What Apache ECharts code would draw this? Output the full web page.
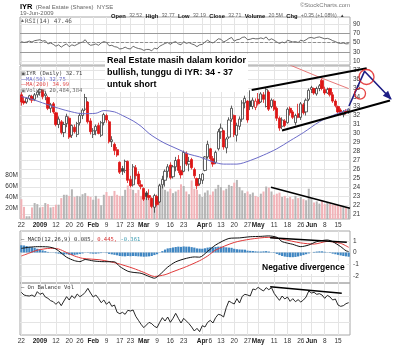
<!DOCTYPE html>
<html>
<head>
<meta charset="utf-8">
<script src="https://cdn.jsdelivr.net/npm/echarts@6.0.0/dist/echarts.min.js"></script>
<style>
  html, body { margin: 0; padding: 0; background: #fff; }
  #c { width: 400px; height: 345px; }
</style>
</head>
<body>
<div id="c"></div>
<script>
// ---- IYR daily, 22 Dec 2008 – 19 Jun 2009 ----
const dates = [
  '2008-12-22','2008-12-23','2008-12-24','2008-12-26','2008-12-29','2008-12-30','2008-12-31',
  '2009-01-02','2009-01-05','2009-01-06','2009-01-07','2009-01-08','2009-01-09','2009-01-12','2009-01-13','2009-01-14','2009-01-15','2009-01-16','2009-01-20','2009-01-21','2009-01-22','2009-01-23','2009-01-26','2009-01-27','2009-01-28','2009-01-29','2009-01-30',
  '2009-02-02','2009-02-03','2009-02-04','2009-02-05','2009-02-06','2009-02-09','2009-02-10','2009-02-11','2009-02-12','2009-02-13','2009-02-17','2009-02-18','2009-02-19','2009-02-20','2009-02-23','2009-02-24','2009-02-25','2009-02-26','2009-02-27',
  '2009-03-02','2009-03-03','2009-03-04','2009-03-05','2009-03-06','2009-03-09','2009-03-10','2009-03-11','2009-03-12','2009-03-13','2009-03-16','2009-03-17','2009-03-18','2009-03-19','2009-03-20','2009-03-23','2009-03-24','2009-03-25','2009-03-26','2009-03-27','2009-03-30','2009-03-31',
  '2009-04-01','2009-04-02','2009-04-03','2009-04-06','2009-04-07','2009-04-08','2009-04-09','2009-04-13','2009-04-14','2009-04-15','2009-04-16','2009-04-17','2009-04-20','2009-04-21','2009-04-22','2009-04-23','2009-04-24','2009-04-27','2009-04-28','2009-04-29','2009-04-30',
  '2009-05-01','2009-05-04','2009-05-05','2009-05-06','2009-05-07','2009-05-08','2009-05-11','2009-05-12','2009-05-13','2009-05-14','2009-05-15','2009-05-18','2009-05-19','2009-05-20','2009-05-21','2009-05-22','2009-05-26','2009-05-27','2009-05-28','2009-05-29',
  '2009-06-01','2009-06-02','2009-06-03','2009-06-04','2009-06-05','2009-06-08','2009-06-09','2009-06-10','2009-06-11','2009-06-12','2009-06-15','2009-06-16','2009-06-17','2009-06-18','2009-06-19'
];

const open = [
  34.3,33.6,33.5,33.9,34.1,33.8,34.3,34.6,34.8,34.2,
  34.0,32.8,33.3,32.3,31.0,31.3,30.1,31.1,31.7,29.8,
  30.7,29.9,31.2,32.0,32.7,33.5,31.4,29.9,30.3,30.9,
  29.8,31.2,32.0,31.3,29.1,28.8,28.2,26.8,26.1,25.9,
  26.9,24.9,24.3,26.2,25.5,24.3,23.9,23.4,23.1,22.8,
  21.8,23.0,22.4,24.3,24.8,25.8,26.5,25.2,26.3,27.1,
  25.9,25.8,27.8,26.6,27.1,26.0,25.0,24.4,24.8,25.9,
  27.4,28.3,27.2,26.8,28.3,30.2,30.3,28.4,29.6,31.6,
  32.0,29.8,30.8,31.6,33.4,33.6,33.6,33.0,32.9,33.8,
  33.5,34.3,33.0,34.6,33.0,33.6,32.8,31.7,30.8,31.4,
  31.2,32.8,32.4,31.2,32.2,31.8,33.2,32.4,33.8,34.9,
  35.0,34.4,35.0,35.9,34.9,34.5,35.0,34.3,33.6,33.0,
  32.6,32.1,32.5,32.52
];
const high = [
  34.6,34.1,34.0,34.3,34.3,34.5,34.8,35.0,34.9,34.7,
  34.2,33.4,33.5,32.4,31.9,31.5,31.3,32.2,31.9,31.0,
  31.0,31.3,32.3,32.8,34.4,33.6,31.7,30.6,31.0,31.2,
  31.4,32.3,32.2,31.5,29.7,29.0,28.5,26.9,26.4,27.1,
  27.0,25.3,26.6,26.5,25.8,24.8,24.0,23.6,23.8,22.9,
  23.3,23.2,24.4,25.3,26.0,26.6,26.8,26.5,27.4,27.6,
  26.4,28.1,28.0,27.4,27.3,26.2,25.1,25.5,25.6,27.5,
  29.2,28.4,27.5,28.1,30.5,31.1,30.4,29.6,31.8,33.1,
  32.1,31.2,31.9,33.7,34.2,33.7,34.8,34.0,33.9,34.5,
  34.6,34.6,35.1,34.8,33.9,33.8,33.0,31.9,31.8,31.6,
  32.9,33.0,32.6,32.2,33.3,33.5,33.4,33.9,35.0,35.3,
  35.1,35.2,35.5,36.1,35.2,35.1,35.1,34.6,33.8,33.1,
  32.8,32.6,32.7,32.77
];
const low = [
  33.1,33.2,33.3,33.7,33.4,33.6,34.0,34.2,33.8,33.7,
  32.6,32.3,32.2,30.8,30.6,29.9,29.6,30.7,29.4,29.5,
  30.0,29.6,30.9,31.6,32.5,31.1,29.9,29.5,29.8,29.9,
  29.6,30.9,31.2,28.9,28.5,27.6,27.4,25.5,25.4,25.6,
  24.5,24.0,24.1,24.9,24.2,23.8,22.5,22.6,22.6,21.7,
  21.2,21.9,22.3,23.9,24.1,25.1,24.9,25.0,25.8,25.6,
  25.0,25.7,26.4,25.8,26.0,25.0,23.8,24.2,24.4,25.8,
  27.2,26.9,26.3,26.6,28.1,29.4,28.2,27.8,29.4,31.3,
  29.6,29.1,30.4,31.3,32.8,31.2,32.6,32.7,32.6,33.1,
  33.4,33.4,32.9,32.5,32.8,32.5,31.4,30.3,30.5,30.7,
  31.1,32.0,31.6,30.9,31.7,31.5,32.1,32.0,33.6,34.5,
  34.3,34.2,34.7,34.8,34.3,34.4,34.1,33.4,32.9,32.2,
  32.0,31.8,32.1,32.19
];
const close = [
  33.5,33.4,33.9,34.2,33.7,34.3,34.6,34.9,34.1,34.4,
  32.8,33.2,32.4,31.0,31.6,30.1,31.0,31.9,29.6,30.9,
  30.2,31.1,32.0,32.6,34.0,31.3,30.2,30.3,30.8,30.0,
  31.2,32.1,31.5,29.1,29.3,28.1,27.6,25.7,25.8,26.9,
  24.8,24.2,26.3,25.3,24.4,24.1,22.7,23.0,22.9,21.9,
  23.1,22.1,24.2,24.9,25.8,26.3,25.1,26.3,27.0,25.9,
  25.4,27.9,26.6,26.9,26.2,25.3,24.2,25.0,25.5,27.4,
  28.8,27.2,26.6,27.9,30.2,30.6,28.5,29.4,31.5,32.8,
  29.9,30.9,31.6,33.4,33.9,31.5,33.0,33.7,33.6,33.3,
  34.4,33.8,34.9,32.7,33.7,32.7,31.7,30.6,31.5,30.9,
  32.7,32.3,31.8,32.0,31.8,33.3,32.3,33.7,34.8,35.1,
  34.5,35.0,35.3,35.0,34.5,34.9,34.3,33.6,33.1,32.4,
  32.1,32.4,32.36,32.71
];
// volume, millions of shares
const volume = [
  36,22,5,5,21,29,27,21,22,29,
  27,21,22,26,26,38,44,44,42,54,
  40,42,41,45,47,42,40,35,42,37,
  25,44,49,42,42,51,44,42,42,53,
  61,55,53,47,53,42,38,48,42,38,
  34,42,64,61,53,50,55,47,50,53,
  63,60,50,45,70,55,53,45,40,48,
  52,44,50,55,62,58,52,55,62,60,
  66,71,58,52,47,50,45,48,42,40,
  46,50,59,57,50,44,46,48,40,42,
  38,40,36,42,38,40,36,34,55,38,
  30,32,28,33,27,30,28,26,26,25,
  23,22,21,20.48
];
const rsi = [
  52,50,51,53,51,54,55,56,53,54,
  47,49,46,42,45,40,44,47,41,45,
  43,46,49,51,56,48,44,45,47,44,
  49,52,50,43,44,41,40,36,37,40,
  37,36,42,39,37,36,33,35,35,32,
  38,36,42,45,48,50,46,50,52,47,
  45,52,48,50,47,45,41,45,46,51,
  55,51,49,53,58,57,51,54,58,61,
  53,56,57,61,62,56,57,59,58,58,
  60,58,62,55,58,55,51,48,51,49,
  55,53,51,52,50,55,53,56,60,61,
  59,61,62,60,58,59,57,54,52,49,
  48,49,47,47.46
];
const macdHist = [
  0.62,0.6,0.55,0.5,0.45,0.4,0.32,0.25,0.18,0.12,
  0.05,0.02,-0.02,-0.06,-0.1,-0.14,-0.18,-0.15,-0.2,-0.22,
  -0.2,-0.17,-0.12,-0.08,0.02,-0.03,-0.08,-0.1,-0.1,-0.08,
  -0.05,-0.02,-0.05,-0.12,-0.16,-0.2,-0.24,-0.3,-0.32,-0.33,
  -0.3,-0.32,-0.3,-0.31,-0.33,-0.34,-0.36,-0.35,-0.33,-0.3,
  -0.22,-0.15,-0.02,0.12,0.25,0.35,0.38,0.43,0.47,0.5,
  0.48,0.52,0.5,0.5,0.46,0.42,0.35,0.33,0.32,0.36,
  0.42,0.45,0.44,0.47,0.5,0.5,0.46,0.44,0.42,0.4,
  0.32,0.28,0.26,0.25,0.24,0.16,0.14,0.13,0.1,0.08,
  0.08,0.1,0.12,0.08,0.02,-0.04,-0.12,-0.22,-0.3,-0.35,
  -0.38,-0.4,-0.4,-0.38,-0.34,-0.28,-0.22,-0.15,-0.08,0.0,
  0.05,0.08,0.1,0.1,0.06,0.02,-0.04,-0.1,-0.15,-0.2,
  -0.25,-0.3,-0.33,-0.361
];
// on balance volume, millions (relative)
const obv = [
  384,360,354,351,360,345,390,366,378,342,
  330,309,300,276,300,264,306,345,315,354,
  330,369,345,360,384,420,378,342,360,330,
  291,315,276,300,258,270,204,192,204,186,
  222,216,225,168,132,96,66,90,114,102,
  78,66,114,156,126,162,114,150,195,150,
  108,150,126,102,72,36,60,30,84,72,
  114,132,108,156,186,180,162,246,306,291,
  279,327,288,348,366,360,351,414,408,429,
  411,396,426,408,426,375,342,312,351,324,
  342,303,327,300,318,297,315,342,396,378,
  384,366,372,360,330,357,342,315,324,270,
  258,264,282,291
];
// smooth indicator lines: [trading-day index, value]
const ma50 = [[0,34.1],[3,33.9],[8,33.4],[14,32.8],[19,32.4],[23,32.2],[28,32.25],[31,32.55],[35,32.4],[38,32.0],
  [42,31.4],[45,30.8],[48,30.0],[51,29.4],[54,28.9],[57,28.5],[60,28.1],[63,27.7],[67,27.4],[72,26.85],
  [76,26.6],[81,26.6],[86,27.0],[91,27.6],[96,28.3],[101,29.2],[106,30.1],[112,31.3],[117,32.0],[121,32.45],[123,32.75]];
const ma200 = [[101,37.6],[112,36.25],[123,34.99]];
const macdLine = [[0,0.35],[3,0.45],[6,0.5],[10,0.48],[13,0.3],[17,-0.4],[20,-0.7],[22,-0.78],[24,-0.6],[27,-0.72],
  [30,-0.78],[35,-0.8],[37,-1.2],[40,-1.6],[42,-1.7],[45,-1.78],[48,-2.05],[50,-2.2],[52,-1.9],[55,-1.25],
  [58,-0.8],[62,-0.5],[65,-0.38],[67,-0.4],[70,0.1],[73,0.64],[78,1.2],[82,1.25],[86,1.35],[90,1.38],
  [93,1.42],[96,1.3],[98,0.93],[102,0.7],[105,0.5],[108,0.64],[111,0.93],[115,1.07],[117,0.93],[120,0.5],[122,0.15],[123,0.085]];
const signalLine = [[0,-0.3],[3,-0.05],[6,0.2],[11,0.36],[14,0.3],[17,0.0],[20,-0.3],[23,-0.5],[30,-0.64],[36,-0.93],
  [42,-1.35],[46,-1.7],[50,-2.05],[54,-1.9],[57,-1.64],[62,-1.21],[67,-0.7],[70,-0.3],[73,0.21],[80,0.86],
  [86,1.14],[93,1.3],[98,1.14],[105,0.82],[110,0.72],[115,0.95],[120,0.78],[123,0.445]];

// axis ticks
const tickDates = ['2008-12-22','2009-01-02','2009-01-12','2009-01-20','2009-01-26','2009-02-02','2009-02-09','2009-02-17','2009-02-23',
  '2009-03-02','2009-03-09','2009-03-16','2009-03-23','2009-04-01','2009-04-06','2009-04-13','2009-04-20','2009-04-27',
  '2009-05-01','2009-05-11','2009-05-18','2009-05-26','2009-06-01','2009-06-08','2009-06-15'];
const tickLabels = ['22','2009','12','20','26','Feb','9','17','23','Mar','9','16','23','Apr','6','13','20','27','May','11','18','26','Jun','8','15'];
const boldLabels = ['2009','Feb','Mar','Apr','May','Jun'];
const priceTicks = [21,22,23,24,25,26,27,28,29,30,31,32,33,34,35,36,37];
const volumeTicks = [20,40,60,80];
const rsiTicks = [10,30,50,70,90];
const macdTicks = [-2,-1,0,1];
const obvTicks = [117,234,351];

// hand-drawn study marks, in [trading-day index, value]
const channelTop = [[86.56,34.83],[129.77,37.24]];
const channelBottom = [[97.95,30.33],[138.53,33.67]];
const volumeTrend = [[93.8,57.6],[123.5,19.4]];
const macdTrend = [[93.5,1.265],[122.3,0.872]];
const obvTrend = [[93.5,434.7],[120.4,375.3]];
const forecastPath = [[123.12,33.06],[128.95,36.91],[138.9,33.83]];
const rings = [[129.7,36.28,15],[127.26,34.44,11]];

// ---- build ----
const FONT = 'Liberation Sans';
const MONO = 'DejaVu Sans Mono';
const tickIdx = tickDates.map(d => dates.indexOf(d));
const tickText = {};
tickIdx.forEach((k, j) => { tickText[k] = tickLabels[j]; });
const N = dates.length;
const GRID_LINE = '#e4e4e4';

function xAxisFor(g, showLabels) {
  return {
    type: 'value', gridIndex: g, min: -0.5, max: N - 0.5,
    axisLine: { show: false },
    axisTick: { show: false, customValues: tickIdx },
    axisLabel: {
      show: showLabels, customValues: tickIdx, margin: 3,
      color: '#333', fontSize: 6.5, fontFamily: FONT,
      formatter: v => {
        const t = tickText[Math.round(v)] || '';
        return boldLabels.includes(t) ? '{b|' + t + '}' : t;
      },
      rich: { b: { fontWeight: 'bold', fontSize: 6.5, fontFamily: FONT, color: '#222' } }
    },
    splitLine: { show: true, lineStyle: { color: GRID_LINE, width: 1 } }
  };
}
function yAxisFor(g, opts) {
  return Object.assign({
    type: 'value', gridIndex: g, position: 'right', scale: true,
    axisLine: { show: false },
    axisTick: { show: false, customValues: opts.ticks },
    axisLabel: { show: true, customValues: opts.ticks, margin: 3, color: '#333', fontSize: 6.5, fontFamily: FONT },
    splitLine: { show: true, lineStyle: { color: GRID_LINE, width: 1 } }
  }, opts.extra || {});
}

const candleData = dates.map((d, i) => {
  const prev = i ? close[i - 1] : open[i];
  const stroke = close[i] >= prev ? '#3a3a3a' : '#dd1515';
  const fill = close[i] >= open[i] ? '#ffffff' : stroke;
  return {
    value: [i, open[i], close[i], low[i], high[i]],
    itemStyle: { color: fill, color0: fill, borderColor: stroke, borderColor0: stroke }
  };
});
const volumeData = dates.map((d, i) => {
  const prev = i ? close[i - 1] : open[i];
  return { value: [i, volume[i]], itemStyle: { color: close[i] >= prev ? '#b5b5b5' : '#f1b3b8' } };
});

const grids = [
  { left: 20, right: 50, top: 17, height: 48 },
  { left: 20, right: 50, top: 66, height: 153 },
  { left: 20, right: 50, top: 231, height: 52 },
  { left: 20, right: 50, top: 283, height: 52 }
].map(g => Object.assign(g, { show: true, borderColor: '#a8a8a8', borderWidth: 1 }));

const plain = (name, xi, yi, data, color, width, extra) => Object.assign({
  name, type: 'line', xAxisIndex: xi, yAxisIndex: yi, data,
  symbol: 'none', silent: true, lineStyle: { color, width }
}, extra || {});

// free-hand polyline through data points, allowed to run past the plot edge
function sketchLine(name, xi, yi, pts, color, width, z) {
  return {
    name, type: 'custom', xAxisIndex: xi, yAxisIndex: yi, silent: true, z: z || 6,
    data: [pts.flat()],
    encode: { x: pts.map((p, k) => 2 * k), y: pts.map((p, k) => 2 * k + 1) },
    renderItem: (params, api) => ({
      type: 'polyline',
      shape: { points: pts.map((p, k) => api.coord([api.value(2 * k), api.value(2 * k + 1)])) },
      style: { stroke: color, lineWidth: width, fill: null, lineJoin: 'round' }
    })
  };
}

const option = {
  animation: false,
  backgroundColor: '#fff',
  grid: grids,
  xAxis: [xAxisFor(0, false), xAxisFor(1, true), xAxisFor(2, false), xAxisFor(3, true)],
  yAxis: [
    yAxisFor(0, { ticks: rsiTicks, extra: { min: 1.4, max: 105.1 } }),
    yAxisFor(1, { ticks: priceTicks, extra: { min: 20.5, max: 37.5 } }),
    yAxisFor(1, { ticks: volumeTicks, extra: {
      position: 'left', min: 0, max: 278,
      axisLabel: { show: true, customValues: volumeTicks, margin: 2, color: '#333', fontSize: 6.5, fontFamily: FONT, formatter: '{value}M' },
      splitLine: { show: false }
    } }),
    yAxisFor(2, { ticks: macdTicks, extra: { min: -2.61, max: 1.84 } }),
    yAxisFor(3, { ticks: obvTicks, extra: { min: 0, max: 468,
      axisLabel: { show: false, customValues: obvTicks } } })
  ],
  series: [
    plain('RSI', 0, 0, rsi.map((v, i) => [i, v]), '#444', 0.8, {
      markLine: {
        silent: true, symbol: 'none', label: { show: false },
        data: [
          { yAxis: 70, lineStyle: { color: '#9a9a9a', type: 'solid', width: 1 } },
          { yAxis: 50, lineStyle: { color: '#777', type: 'dashed', width: 0.8 } },
          { yAxis: 30, lineStyle: { color: '#9a9a9a', type: 'solid', width: 1 } }
        ]
      }
    }),
    {
      name: 'Volume', type: 'bar', xAxisIndex: 1, yAxisIndex: 2, barWidth: 2,
      data: volumeData, silent: true, z: 1
    },
    {
      name: 'IYR', type: 'candlestick', xAxisIndex: 1, yAxisIndex: 1,
      data: candleData, encode: { x: 0, y: [1, 2, 3, 4] },
      barWidth: 2.7, silent: true, z: 3,
      itemStyle: { borderWidth: 0.8 }
    },
    plain('MA(50)', 1, 1, ma50, '#6b6bc8', 1, { smooth: 0.3, z: 4 }),
    plain('MA(200)', 1, 1, ma200, '#e46a6a', 0.9, { z: 4 }),
    sketchLine('channel top', 1, 1, channelTop, '#000', 2),
    sketchLine('channel bottom', 1, 1, channelBottom, '#000', 2),
    sketchLine('volume trend', 1, 2, volumeTrend, '#000', 1.6),
    sketchLine('path', 1, 1, forecastPath, '#1d1d85', 1.6, 7),
    {
      name: 'arrow head', type: 'custom', xAxisIndex: 1, yAxisIndex: 1, silent: true, z: 7,
      data: [[forecastPath[1][0], forecastPath[1][1], forecastPath[2][0], forecastPath[2][1]]],
      encode: { x: [0, 2], y: [1, 3] },
      renderItem: (params, api) => {
        const a = api.coord([api.value(0), api.value(1)]);
        const b = api.coord([api.value(2), api.value(3)]);
        const dx = b[0] - a[0], dy = b[1] - a[1];
        const len = Math.hypot(dx, dy), ux = dx / len, uy = dy / len;
        const hl = 8, hw = 3.6;
        const bx = b[0] - ux * hl, by = b[1] - uy * hl;
        return {
          type: 'polygon',
          shape: { points: [[b[0] + ux, b[1] + uy], [bx - uy * hw, by + ux * hw], [bx + uy * hw, by - ux * hw]] },
          style: { fill: '#1d1d85' }
        };
      }
    },
    {
      name: 'rings', type: 'scatter', xAxisIndex: 1, yAxisIndex: 1, silent: true, clip: false, z: 8,
      data: rings.map(r => ({ value: [r[0], r[1]], symbolSize: r[2] })),
      symbol: 'circle',
      itemStyle: { color: 'rgba(0,0,0,0)', borderColor: '#e01818', borderWidth: 1.3 }
    },
    {
      name: 'Histogram', type: 'bar', xAxisIndex: 2, yAxisIndex: 3, barWidth: 2.2, silent: true,
      data: macdHist.map((v, i) => [i, v]), itemStyle: { color: '#3f86c2' }, z: 2
    },
    plain('MACD', 2, 3, macdLine, '#111', 1, { smooth: 0.25, z: 4 }),
    plain('Signal', 2, 3, signalLine, '#e03a3a', 1, { smooth: 0.25, z: 3 }),
    sketchLine('macd trend', 2, 3, macdTrend, '#000', 1.6),
    plain('OBV', 3, 4, obv.map((v, i) => [i, v]), '#111', 0.9, { z: 3 }),
    sketchLine('obv trend', 3, 4, obvTrend, '#000', 1.6)
  ],
  graphic: [
    { id: 'hdr', type: 'text', left: 20, top: 1, z: 100, style: {
      text: '{t|IYR} {s|(Real Estate (Shares)  NYSE}',
      rich: {
        t: { fontFamily: FONT, fontWeight: 'bold', fontSize: 7.5, fill: '#000' },
        s: { fontFamily: FONT, fontSize: 6, fill: '#666' }
      } } },
    { id: 'date', type: 'text', left: 20, top: 10, z: 100, style: {
      text: '19-Jun-2009', fontFamily: FONT, fontSize: 6, fill: '#666' } },
    { id: 'stats', type: 'text', left: 111, top: 10, z: 100, style: {
      text: '{l|Open} {v|32.52} {l|High} {v|32.77} {l|Low} {v|32.19} {l|Close} {v|32.71} {l|Volume} {v|20.5M} {l|Chg} {v|+0.35 (+1.08%)} {a|▲}',
      rich: {
        l: { fontFamily: FONT, fontWeight: 'bold', fontSize: 5.8, fill: '#111' },
        v: { fontFamily: FONT, fontSize: 5.2, fill: '#666' },
        a: { fontFamily: FONT, fontSize: 4.5, fill: '#333' }
      } } },
    { id: 'brand', type: 'text', right: 50, top: 2, z: 100, style: {
      text: '©StockCharts.com', fontFamily: FONT, fontSize: 6, fill: '#777' } },
    { id: 'rsiLeg', type: 'text', left: 20, top: 18, z: 100, style: {
      text: '{i|▲}{t|RSI(14) 47.46}',
      rich: {
        i: { fontFamily: FONT, fontSize: 5, fill: '#666' },
        t: { fontFamily: MONO, fontSize: 6, fill: '#555' }
      } } },
    { id: 'pLeg1', type: 'text', left: 21, top: 71, z: 100, style: {
      text: '{i|▣}{t|IYR (Daily) 32.71}',
      rich: { i: { fontSize: 5, fill: '#555' }, t: { fontFamily: MONO, fontSize: 5.5, fill: '#444' } } } },
    { id: 'pLeg2', type: 'text', left: 21, top: 76.5, z: 100, style: {
      text: '{i|—}{t|MA(50) 32.75}',
      rich: { i: { fontSize: 5, fill: '#6b6bc8' }, t: { fontFamily: MONO, fontSize: 5.5, fill: '#6b6bc8' } } } },
    { id: 'pLeg3', type: 'text', left: 21, top: 82, z: 100, style: {
      text: '{i|—}{t|MA(200) 34.99}',
      rich: { i: { fontSize: 5, fill: '#e04a4a' }, t: { fontFamily: MONO, fontSize: 5.5, fill: '#e04a4a' } } } },
    { id: 'pLeg4', type: 'text', left: 21, top: 87.5, z: 100, style: {
      text: '{i|▣}{t|Volume 20,484,384}',
      rich: { i: { fontSize: 5, fill: '#777' }, t: { fontFamily: MONO, fontSize: 5.5, fill: '#666' } } } },
    { id: 'macdLeg', type: 'text', left: 21, top: 233.5, z: 100, style: {
      text: '{k|—} {k|MACD(12,26,9) 0.085,} {r|0.445,} {c|-0.361}',
      rich: {
        k: { fontFamily: MONO, fontSize: 5.5, fill: '#333' },
        r: { fontFamily: MONO, fontSize: 5.5, fill: '#d83030' },
        c: { fontFamily: MONO, fontSize: 5.5, fill: '#3a9ab0' }
      } } },
    { id: 'obvLeg', type: 'text', left: 21, top: 284.5, z: 100, style: {
      text: '— On Balance Vol', fontFamily: MONO, fontSize: 5.5, fill: '#333' } },
    { id: 'note', type: 'text', left: 105, top: 54, z: 90, style: {
      text: 'Real Estate masih dalam koridor\nbullish, tunggu di IYR: 34 - 37\nuntuk short',
      fontFamily: FONT, fontWeight: 'bold', fontSize: 9, lineHeight: 12, fill: '#000',
      backgroundColor: '#fff', padding: [1, 2] } },
    { id: 'div', type: 'text', left: 260, top: 261, z: 90, style: {
      text: 'Negative divergence',
      fontFamily: FONT, fontWeight: 'bold', fontSize: 8.5, lineHeight: 11, fill: '#000',
      backgroundColor: '#fff', padding: [1, 2] } }
  ]
};

const chart = echarts.init(document.getElementById('c'), null, { renderer: 'canvas' });
chart.setOption(option);
</script>
</body>
</html>
